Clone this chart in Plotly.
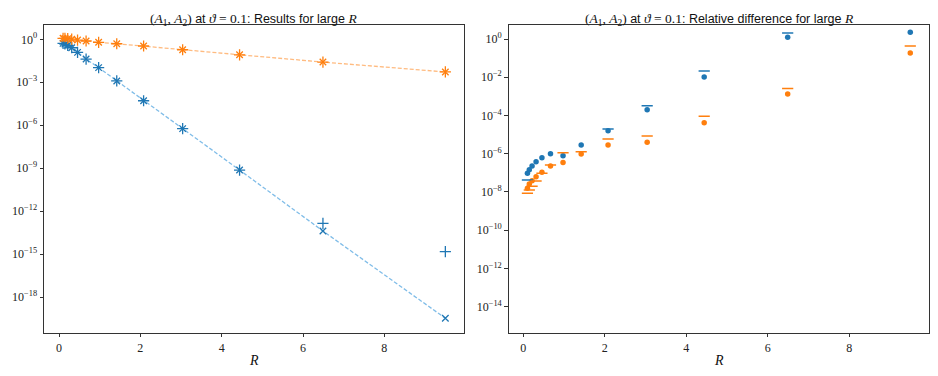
import plotly.graph_objects as go

# radii (shared by both panels)
R = [0.1, 0.146, 0.214, 0.312, 0.456, 0.666, 0.974, 1.42, 2.08, 3.04, 4.44, 6.49, 9.5]

# left panel: results for large R
A1_plus = [0.52, 0.47, 0.38, 0.257, 0.123, 0.0417, 1.05e-2, 1.23e-3, 5.1e-5, 5.8e-7, 7.4e-10, 1.4e-13, 1.5e-15]
A1_cross = [0.52, 0.47, 0.38, 0.257, 0.123, 0.0417, 1.05e-2, 1.23e-3, 5.1e-5, 5.8e-7, 7.4e-10, 4.1e-14, 3.3e-20]
A1_asym = [0.52, 0.47, 0.38, 0.257, 0.123, 0.0417, 1.05e-2, 1.23e-3, 5.1e-5, 5.8e-7, 7.4e-10, 4.1e-14, 3.3e-20]
A2_plus = [1.17, 1.15, 1.10, 1.02, 0.89, 0.76, 0.62, 0.49, 0.34, 0.186, 0.083, 0.0257, 0.00525]
A2_cross = [1.17, 1.15, 1.10, 1.02, 0.89, 0.76, 0.62, 0.49, 0.34, 0.186, 0.083, 0.0257, 0.00525]
A2_asym = [1.17, 1.15, 1.10, 1.02, 0.89, 0.76, 0.62, 0.49, 0.34, 0.186, 0.083, 0.0257, 0.00525]

# right panel: relative differences
A1_rel_dot = [9.5e-8, 1.45e-7, 2.3e-7, 3.8e-7, 6.2e-7, 1.0e-6, 7.9e-7, 2.9e-6, 1.6e-5, 2.0e-4, 1.02e-2, 1.23, 2.24]
A1_rel_bar = [4.3e-8, None, None, None, None, None, None, None, 2.0e-5, 3.2e-4, 2.1e-2, 2.1, None]
A2_rel_dot = [1.55e-8, 2.6e-8, 3.9e-8, 6.3e-8, 1.07e-7, 2.3e-7, 3.5e-7, 9.8e-7, 2.9e-6, 4.0e-6, 4.2e-5, 1.32e-3, 0.186]
A2_rel_bar = [8.5e-9, 1.26e-8, 2.0e-8, 3.7e-8, 9.5e-8, 2.6e-7, 1.12e-6, 1.29e-6, 5.9e-6, 8.5e-6, 9.1e-5, 2.6e-3, 0.43]

left_exp = [0, -3, -6, -9, -12, -15, -18]
right_exp = [0, -2, -4, -6, -8, -10, -12, -14]
x_ticks = [0, 2, 4, 6, 8]

C0 = "#1f77b4"
C1 = "#ff7f0e"
C0_light = "#80bde8"
C1_light = "#ffbb80"
SERIF = "Liberation Serif"
SANS = "Liberation Sans"

# the page body adds an 8px margin, so the figure is drawn 8px in and made smaller
W, H, OFF = 922, 360, 8


def px(x):
    return (x - OFF) / W


def py(y):
    return 1 - (y - OFF) / H


fig = go.Figure()

# left panel
for y, col in [(A1_asym, C0_light), (A2_asym, C1_light)]:
    fig.add_trace(go.Scatter(x=R, y=y, mode="lines", line=dict(color=col, width=1.3, dash="4px,2px"),
                             xaxis="x", yaxis="y"))
for y, col in [(A1_plus, C0), (A2_plus, C1)]:
    fig.add_trace(go.Scatter(x=R, y=y, mode="markers",
                             marker=dict(symbol="cross-thin", size=8, line=dict(color=col, width=1.3)),
                             xaxis="x", yaxis="y"))
for y, col in [(A1_cross, C0), (A2_cross, C1)]:
    fig.add_trace(go.Scatter(x=R, y=y, mode="markers",
                             marker=dict(symbol="x-thin", size=6.5, line=dict(color=col, width=1.3)),
                             xaxis="x", yaxis="y"))

# right panel
for y, col in [(A1_rel_dot, C0), (A2_rel_dot, C1)]:
    fig.add_trace(go.Scatter(x=R, y=y, mode="markers", marker=dict(symbol="circle", size=5.5, color=col),
                             xaxis="x2", yaxis="y2"))
for y, col in [(A1_rel_bar, C0), (A2_rel_bar, C1)]:
    fig.add_trace(go.Scatter(x=R, y=y, mode="markers",
                             marker=dict(symbol="line-ew", size=8, line=dict(color=col, width=1.5)),
                             xaxis="x2", yaxis="y2"))

axis_common = dict(showgrid=False, zeroline=False, showline=True, linecolor="#333", linewidth=1,
                   mirror=True, ticks="outside", ticklen=3.5, tickwidth=0.8, tickcolor="#333",
                   automargin=False, tickfont=dict(family=SERIF, size=12, color="#222"))


def pow_labels(exps):
    return [f"10<sup>{'−' + str(-e) if e < 0 else e}</sup>" for e in exps]


y_dom = [py(332.7), py(24.7)]
fig.update_layout(
    width=W, height=H, showlegend=False,
    margin=dict(l=0, r=0, t=0, b=0),
    plot_bgcolor="white", paper_bgcolor="white",
    xaxis=dict(domain=[px(44), px(464.3)], range=[-0.369, 9.966], tickvals=x_ticks, anchor="y", **axis_common),
    yaxis=dict(domain=y_dom, type="log", range=[-20.49, 1.02], anchor="x",
               tickvals=[10.0 ** e for e in left_exp], ticktext=pow_labels(left_exp), **axis_common),
    xaxis2=dict(domain=[px(508.7), px(929)], range=[-0.36, 9.96], tickvals=x_ticks, anchor="y2", **axis_common),
    yaxis2=dict(domain=y_dom, type="log", range=[-15.36, 0.75], anchor="x2",
                tickvals=[10.0 ** e for e in right_exp], ticktext=pow_labels(right_exp), **axis_common),
)


def title_text(rest):
    m = f'<span style="font-family:{SERIF};font-size:13.5px">'
    return (f"{m}(<i>A</i><sub>1</sub>, <i>A</i><sub>2</sub>)</span> at "
            f"{m}<i>ϑ</i> = 0.1</span>: {rest} {m}<i>R</i></span>")


for cx, rest in [(254, "Results for large"), (719, "Relative difference for large")]:
    fig.add_annotation(x=px(cx), y=py(9), xref="paper", yref="paper", showarrow=False,
                       xanchor="center", yanchor="top",
                       text=title_text(rest), font=dict(family=SANS, size=12.5, color="#111"))
    fig.add_annotation(x=px(cx), y=py(360), xref="paper", yref="paper", showarrow=False,
                       xanchor="center", yanchor="middle",
                       text="<i>R</i>", font=dict(family=SERIF, size=14, color="#111"))

fig.write_html("out.html")
